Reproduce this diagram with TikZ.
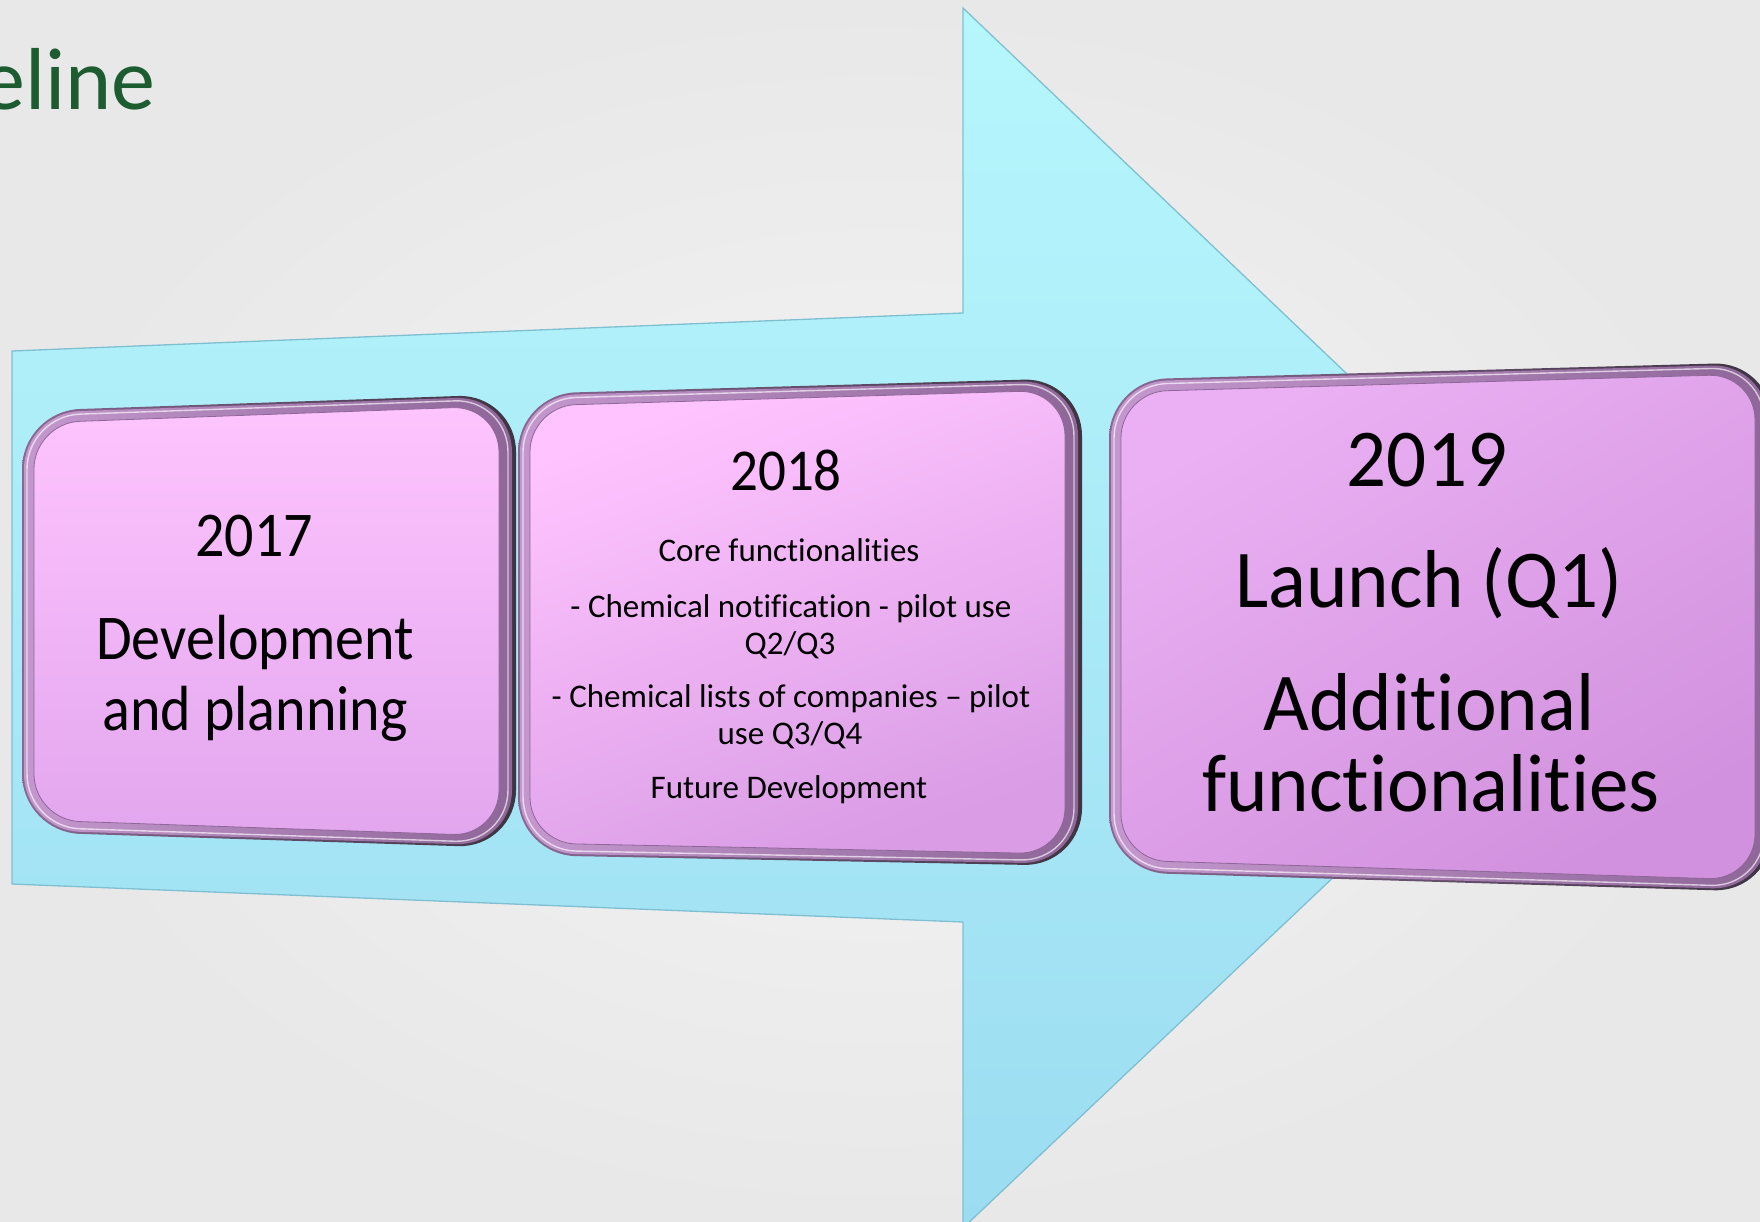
\documentclass[tikz,border=0pt]{standalone}
\usepackage{fontspec}
\setmainfont{Carlito}[Ligatures=NoCommon]
\definecolor{bgI}{HTML}{F4F4F4}
\definecolor{bgO}{HTML}{E8E8E8}
\definecolor{arrT}{HTML}{B6F7FD}
\definecolor{arrB}{HTML}{9CDCF1}
\definecolor{arrLine}{HTML}{7FBFD2}
\definecolor{rimA}{HTML}{8A6894}
\definecolor{rimB}{HTML}{3E3442}
\definecolor{midA}{HTML}{C498CE}
\definecolor{midB}{HTML}{8E6698}
\definecolor{titleGreen}{HTML}{1C5C30}
\definecolor{pinkT}{HTML}{FEC4FE}
\definecolor{pinkB}{HTML}{E2A6EE}
\definecolor{pinkT2}{HTML}{FFC4FF}
\definecolor{pinkB2}{HTML}{D99CE5}
\definecolor{violT}{HTML}{EAB0F3}
\definecolor{violB}{HTML}{D291DE}
\newcommand\bevel[7]{%
 \path[rounded corners=58pt, left color=rimA, right color=rimB]
   (#1,#2) -- (#4,#5) -- (#4,#6) -- (#1,#3) -- cycle;
 \path[rounded corners=56pt, left color=midA, right color=midB]
   ({#1+2},{#2+2}) -- ({#4-4},{#5+2}) -- ({#4-4},{#6-2}) -- ({#1+2},{#3-2}) -- cycle;
 \path[rounded corners=53pt, draw=white, draw opacity=.65, line width=1.4pt]
   ({#1+5},{#2+5}) -- ({#4-8},{#5+5}) -- ({#4-8},{#6-5}) -- ({#1+5},{#3-5}) -- cycle;
 \path[rounded corners=46pt, draw=midB, line width=0.8pt, #7]
   ({#1+12},{#2+12}) -- ({#4-17},{#5+12}) -- ({#4-17},{#6-12}) -- ({#1+12},{#3-12}) -- cycle;
}
\tikzset{
 lbl/.style={inner sep=0pt, text=black, anchor=base},
 fA/.style={font=\fontsize{58}{70}\selectfont, yscale=1.1},
 fByear/.style={font=\fontsize{55}{66}\selectfont, yscale=1.08},
 fB/.style={font=\fontsize{33}{40}\selectfont},
 fC/.style={font=\fontsize{79}{95}\selectfont, yscale=1.04},
}
\begin{document}
\begin{tikzpicture}[x=1pt,y=-1pt]
\clip (0,0) rectangle (1760,1222);
\useasboundingbox (0,0) rectangle (1760,1222);
\fill[inner color=bgI, outer color=bgO] (0,0) rectangle (1760,1222);

% title (cut off at left, as in the slide)
\node[inner sep=0pt, anchor=base east, text=titleGreen, font=\fontsize{88}{100}\selectfont] (title) at (156,110) {eline};

% big arrow
\path[top color=arrT, bottom color=arrB, draw=arrLine, line width=1.3pt]
  (12,351) -- (963,313) -- (963,8) -- (1605,620) -- (963,1228) -- (963,922) -- (12,884) -- cycle;

% boxes
\bevel{22}{411}{832}{516}{394}{848}{top color=pinkT, bottom color=pinkB}
\bevel{518}{394}{855}{1082}{378}{866}{top color=pinkT2, bottom color=pinkB2, shading angle=20}
\bevel{1109}{380}{872}{1772}{362}{892}{top color=violT, bottom color=violB, shading angle=30}

% box 1 text
\node[lbl, fA] (y17) at (254,556) {2017};
\node[lbl, fA] (a17) at (255,659) {Development};
\node[lbl, fA] (b17) at (255,730) {and planning};

% box 2 text
\node[lbl, fByear] (y18) at (786,490) {2018};
\node[lbl, fB] (c1) at (789,561) {Core functionalities};
\node[lbl, fB] (c2) at (791,617) {- Chemical notification - pilot use};
\node[lbl, fB] (c3) at (790,654) {Q2/Q3};
\node[lbl, fB] (c4) at (791,707) {- Chemical lists of companies – pilot};
\node[lbl, fB] (c5) at (790,744) {use Q3/Q4};
\node[lbl, fB] (c6) at (789,798) {Future Development};

% box 3 text
\node[lbl, fC] (y19) at (1427,486) {2019};
\node[lbl, fC] (l19) at (1429,607) {Launch (Q1)};
\node[lbl, fC] (a19) at (1429,730) {Additional};
\node[lbl, fC] (f19) at (1431,811) {functionalities};
\end{tikzpicture}
\end{document}
